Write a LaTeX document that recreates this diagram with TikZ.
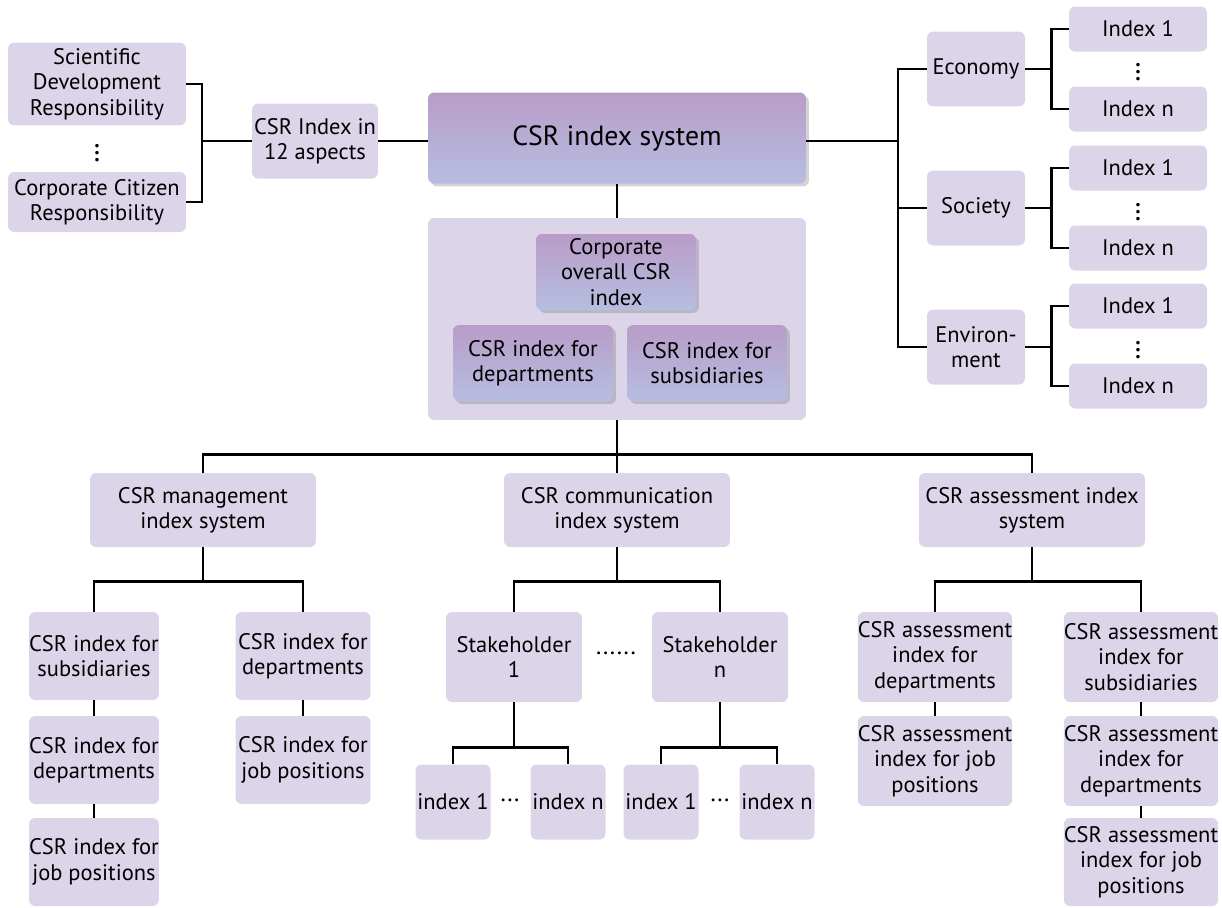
\documentclass[tikz,border=0pt]{standalone}
\usepackage{fontspec}
\setmainfont{PT Sans}
\usetikzlibrary{positioning,shadows}
\definecolor{lilac}{HTML}{DCD4E8}
\definecolor{plumtop}{HTML}{B89CC8}
\definecolor{plumbot}{HTML}{B7BEE0}

\begin{document}
\begin{tikzpicture}[x=0.02cm,y=-0.02cm,
	item/.style={rectangle,rounded corners=3.5pt,fill=lilac,align=center,inner sep=0pt,font=\fontsize{12.8}{14.4}\selectfont},
	header/.style={rectangle,rounded corners=3.5pt,top color=plumtop,bottom color=plumbot,align=center,inner sep=0pt,
		drop shadow={opacity=0.35,shadow xshift=0.06cm,shadow yshift=-0.06cm},font=\fontsize{12.8}{14.4}\selectfont},
	panel/.style={rectangle,rounded corners=3.5pt,fill=lilac,inner sep=0pt},
	aspect/.style={item,minimum width=1.96cm,minimum height=1.5cm},
	idx/.style={item,minimum width=2.76cm,minimum height=0.9cm},
	level/.style={item,minimum width=4.52cm,minimum height=1.48cm},
	small/.style={item,minimum width=1.5cm,minimum height=1.5cm},
	gap/.style={inner sep=0pt,font=\fontsize{14}{14}\selectfont},
	vgap/.style={inner sep=0pt,font=\fontsize{17}{17}\selectfont},
	link/.style={line width=1.4pt}
	] % boxes and links
\useasboundingbox (0,0) rectangle (1222,907);

% top row
\node [item, minimum width=3.56cm, minimum height=1.66cm] (sdr) at (97,84) {Scientific\\Development\\Responsibility};
\node [vgap] (ldots) at (97,148) {$\vdots$};
\node [item, minimum width=3.56cm, minimum height=1.2cm] (ccr) at (97,202) {Corporate Citizen\\Responsibility};
\node [item, minimum width=2.52cm, minimum height=1.5cm] (asp) at (315,141) {CSR Index in\\12 aspects};
\node [header, minimum width=7.56cm, minimum height=1.82cm, font=\fontsize{15.8}{18}\selectfont] (sys) at (617,138) {CSR index system};

\node [aspect] (eco) at (976,69)  {Economy};
\node [aspect] (soc) at (976,208) {Society};
\node [aspect] (env) at (976,347) {Environ-\\ment};

\node [idx] (eco1) at (1138,29)  {Index 1};
\node [vgap] (ecod) at (1138,67)  {$\vdots$};
\node [idx] (econ) at (1138,109) {Index n};
\node [idx] (soc1) at (1138,168) {Index 1};
\node [vgap] (socd) at (1138,207) {$\vdots$};
\node [idx] (socn) at (1138,248) {Index n};
\node [idx] (env1) at (1138,306) {Index 1};
\node [vgap] (envd) at (1138,345) {$\vdots$};
\node [idx] (envn) at (1138,386) {Index n};

% panel under the system
\node [panel, minimum width=7.56cm, minimum height=4.04cm] (pan) at (617,319) {};
\node [header, minimum width=3.2cm, minimum height=1.52cm] (all) at (616,272) {Corporate\\overall CSR\\index};
\node [header, minimum width=3.2cm, minimum height=1.52cm] (pdep) at (533,363) {CSR index for\\departments};
\node [header, minimum width=3.2cm, minimum height=1.52cm] (psub) at (707,363) {CSR index for\\subsidiaries};

% second level
\node [level] (mgmt) at (203,510)  {CSR management\\index system};
\node [level] (comm) at (617,510)  {CSR communication\\index system};
\node [level] (asmt) at (1032,510) {CSR assessment index\\system};

% management
\node [item, minimum width=2.56cm, minimum height=1.76cm] (ms1) at (94,656) {CSR index for\\subsidiaries};
\node [item, minimum width=2.56cm, minimum height=1.76cm] (ms2) at (94,760) {CSR index for\\departments};
\node [item, minimum width=2.56cm, minimum height=1.76cm] (ms3) at (94,862) {CSR index for\\job positions};
\node [item, minimum width=2.7cm, minimum height=1.76cm] (md1) at (303,656) {CSR index for\\departments};
\node [item, minimum width=2.7cm, minimum height=1.76cm] (md2) at (303,760) {CSR index for\\job positions};

% communication
\node [item, minimum width=2.72cm, minimum height=1.8cm] (sh1) at (514,657) {Stakeholder\\1};
\node [gap] (shd) at (616,653) {......};
\node [item, minimum width=2.72cm, minimum height=1.8cm] (shn) at (720,657) {Stakeholder\\n};
\node [small] (s11) at (453,802) {index 1};
\node [gap] (s1d) at (510,800) {...};
\node [small] (s1n) at (568,802) {index n};
\node [small] (sn1) at (661,802) {index 1};
\node [gap] (snd) at (720,800) {...};
\node [small] (snn) at (777,802) {index n};

% assessment
\node [item, minimum width=3.02cm, minimum height=1.8cm] (ad1) at (935,657) {CSR assessment\\index for\\departments};
\node [item, minimum width=3.02cm, minimum height=1.8cm] (ad2) at (935,761) {CSR assessment\\index for job\\positions};
\node [item, minimum width=3.02cm, minimum height=1.8cm] (as1) at (1141,657) {CSR assessment\\index for\\subsidiaries};
\node [item, minimum width=3.02cm, minimum height=1.8cm] (as2) at (1141,761) {CSR assessment\\index for\\departments};
\node [item, minimum width=3.02cm, minimum height=1.76cm] (as3) at (1141,862) {CSR assessment\\index for job\\positions};

% links
\coordinate (lb) at (202,141);
\draw [link] (sdr.east) -| (lb) |- (ccr.east);
\draw [link] (lb) -- (asp.west);
\draw [link] (asp.east) -- (sys.west |- asp.east);

\coordinate (rb) at (898,141);
\draw [link] (sys.east |- rb) -- (rb);
\draw [link] (eco.west) -| (rb) |- (env.west);
\draw [link] (soc.west) -- (soc.west -| rb);

\draw [link] (eco.east) -- ++(26,0) coordinate (eb);
\draw [link] (eco1.west) -| (eb) |- (econ.west);
\draw [link] (soc.east) -- ++(26,0) coordinate (sb);
\draw [link] (soc1.west) -| (sb) |- (socn.west);
\draw [link] (env.east) -- ++(26,0) coordinate (nb);
\draw [link] (env1.west) -| (nb) |- (envn.west);

\draw [link] (sys.south) -- (pan.north);
\draw [link] (pan.south) -- ++(0,34) coordinate (cb);
\draw [link] (mgmt.north) |- (cb) -| (asmt.north);
\draw [link] (cb) -- (comm.north);

\draw [link] (mgmt.south) -- ++(0,34) coordinate (mb);
\draw [link] (ms1.north) |- (mb) -| (md1.north);
\draw [link] (ms1) -- (ms2);
\draw [link] (ms2) -- (ms3);
\draw [link] (md1) -- (md2);

\draw [link] (comm.south) -- ++(0,34) coordinate (kb);
\draw [link] (sh1.north) |- (kb) -| (shn.north);
\draw [link] (sh1.south) -- ++(0,45) coordinate (k1);
\draw [link] (s11.north) |- (k1) -| (s1n.north);
\draw [link] (shn.south) -- ++(0,45) coordinate (k2);
\draw [link] (sn1.north) |- (k2) -| (snn.north);

\draw [link] (asmt.south) -- ++(0,34) coordinate (ab);
\draw [link] (ad1.north) |- (ab) -| (as1.north);
\draw [link] (ad1) -- (ad2);
\draw [link] (as1) -- (as2);
\draw [link] (as2) -- (as3);
\end{tikzpicture}
\end{document}
